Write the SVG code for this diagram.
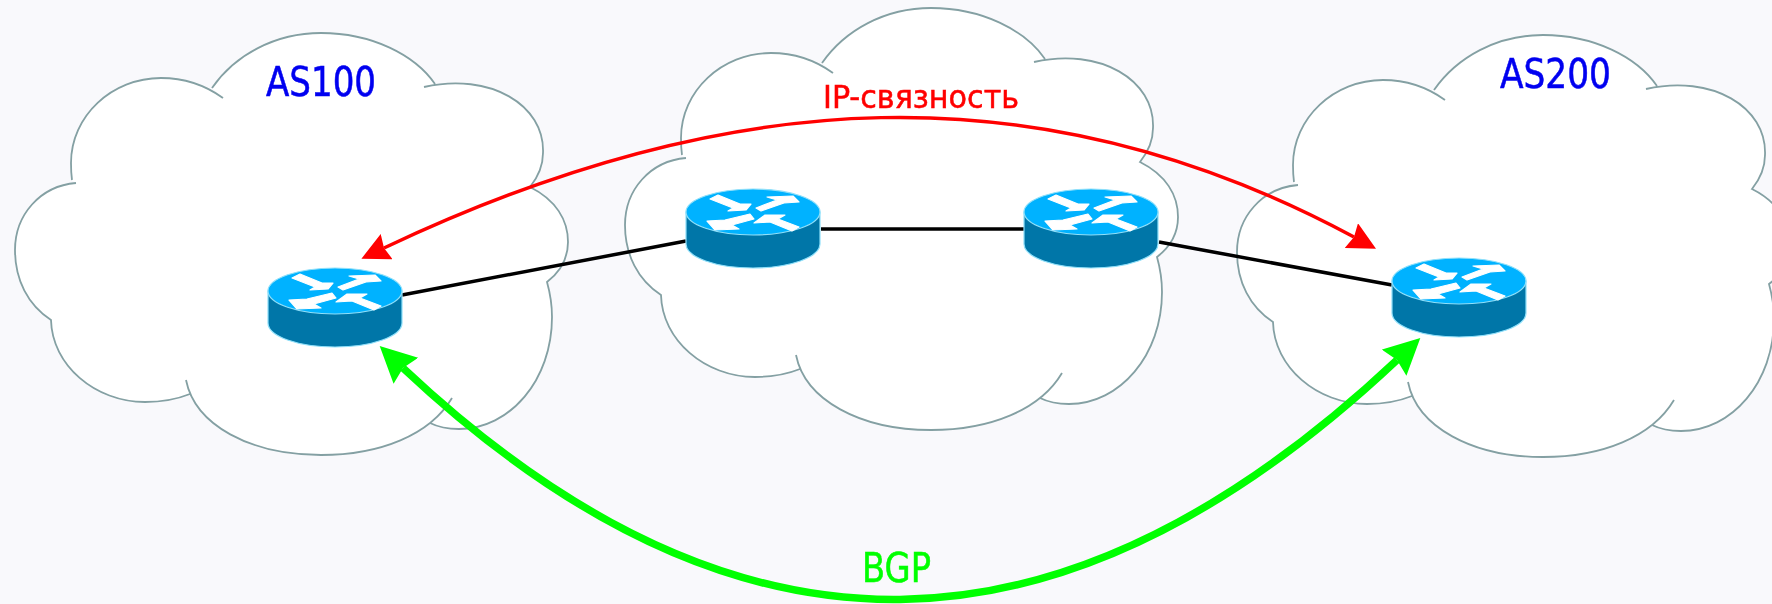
<svg xmlns="http://www.w3.org/2000/svg" width="1772" height="604" viewBox="0 0 1772 604">
<style>
.bg{fill:#f9f9fc}
.cloud-fill{fill:#fff;stroke:none}
.cloud-line{fill:none;stroke:#84a0a3;stroke-width:1.8}
.top{fill:#00b2ff;stroke:#8fe0fa;stroke-width:1.2}
.side{fill:#0076a8;stroke:#8fe0fa;stroke-width:1.2}
.arr{fill:#fff;stroke:#fff;stroke-width:1.2;stroke-linejoin:round}
.link{fill:none;stroke:#000;stroke-width:3.5}
.ip{fill:none;stroke:#f00;stroke-width:3.5}
.bgp{fill:none;stroke:#0f0;stroke-width:7.5}
.soft{filter:url(#soft)}
text{font-family:"DejaVu Sans Condensed","DejaVu Sans",sans-serif;font-size:40px;stroke-width:.5}
.as{fill:#0000f0;stroke:#0000f0}
</style>
<defs>
<filter id="soft" x="-5%" y="-5%" width="110%" height="110%"><feGaussianBlur stdDeviation="0.5"/></filter>
<marker id="redHead" markerUnits="userSpaceOnUse" markerWidth="30" markerHeight="30" refX="3" refY="14" orient="auto-start-reverse"><path d="M0,0L28,14L0,28L3,14Z" fill="#f00"/></marker>
<marker id="greenHead" markerUnits="userSpaceOnUse" markerWidth="40" markerHeight="40" refX="4" refY="18" orient="auto-start-reverse"><path d="M0,0L36,18L0,36L4,18Z" fill="#0f0"/></marker>
<g id="cloud">
<path class="cloud-fill" d="M212,88C235,55 275,33 321,33C372,33 415,55 435,84L424,87C490,72 545,105 543,153C543,166 538,177 530,187C556,200 568,220 568,242C568,258 560,272 547,282C552,300 552,310 552,317C552,380 510,429 459,429C448,429 438,427 430,423L452,398C430,435 380,455 321,455C250,455 195,425 186,380L190,394C175,400 160,402 145,402C95,402 52,365 51,320C28,305 15,280 15,250C15,215 40,186 76,183L72,180C71,173 71,168 71,163C71,116 112,78 161,78C183,78 205,85 223,98Z"/>
<path class="cloud-line" d="M212,88C235,55 275,33 321,33C372,33 415,55 435,84M424,87C490,72 545,105 543,153C543,166 538,177 530,187C556,200 568,220 568,242C568,258 560,272 547,282C552,300 552,310 552,317C552,380 510,429 459,429C448,429 438,427 430,423M452,398C430,435 380,455 321,455C250,455 195,425 186,380M190,394C175,400 160,402 145,402C95,402 52,365 51,320C28,305 15,280 15,250C15,215 40,186 76,183M72,180C71,173 71,168 71,163C71,116 112,78 161,78C183,78 205,85 223,98"/>
</g>
<g id="router">
<path class="side" d="M-67,0V32A67,24 0 0 0 67,32V0Z"/>
<ellipse class="top" cx="0" cy="0" rx="67" ry="23"/>
<path class="arr" d="M-43,-13L-35,-17L-13,-8L-2,-8L-7,-2L-25,-1L-20,-4Z"/>
<path class="arr" d="M3,-4L24,-12L14,-15L40,-16L46,-10L31,-9L8,-1Z"/>
<path class="arr" d="M-3,2L-28,8L-46,9L-38,18L-14,17L-21,13L1,7Z"/>
<path class="arr" d="M1,11L12,3L32,3L25,7L46,15L39,19L17,10Z"/>
</g>
</defs>
<rect class="bg" width="1772" height="604"/>
<g id="cloud-as100" class="soft"><use href="#cloud"/><text class="as" x="266" y="96" textLength="110" lengthAdjust="spacingAndGlyphs">AS100</text></g>
<g id="cloud-transit" class="soft"><use href="#cloud" x="610" y="-25"/></g>
<g id="cloud-as200" class="soft"><use href="#cloud" x="1222" y="2"/><text class="as" x="1500" y="88" textLength="111" lengthAdjust="spacingAndGlyphs">AS200</text></g>
<g id="connectors" class="soft">
<path class="link" d="M402,295L686,241"/>
<path class="link" d="M821,229H1024"/>
<path class="link" d="M1159,242L1392,285"/>
<path class="ip" d="M384,248C730,84 1040,68 1354,237" marker-start="url(#redHead)" marker-end="url(#redHead)"/>
<path class="bgp" d="M403,368C737,682 1063,674 1397,360" marker-start="url(#greenHead)" marker-end="url(#greenHead)"/>
</g>
<g id="router-r1" class="soft"><use href="#router" x="335" y="291"/></g>
<g id="router-r2" class="soft"><use href="#router" x="753" y="212"/></g>
<g id="router-r3" class="soft"><use href="#router" x="1091" y="212"/></g>
<g id="router-r4" class="soft"><use href="#router" x="1459" y="281"/></g>
<g id="label-ip" class="soft"><text x="823" y="108" style="font-size:32px;stroke:#f00" fill="#f00" textLength="196" lengthAdjust="spacingAndGlyphs">IP-связность</text></g>
<g id="label-bgp" class="soft"><text x="862" y="582" style="stroke:#0f0" fill="#0f0" textLength="69" lengthAdjust="spacingAndGlyphs">BGP</text></g>
</svg>
